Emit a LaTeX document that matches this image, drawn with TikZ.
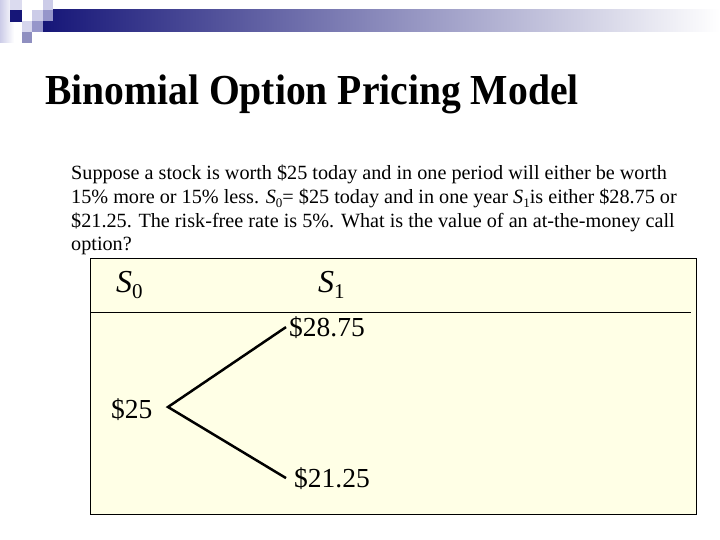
\documentclass[tikz,border=0pt]{standalone}
\usepackage{fontspec}
\setmainfont{Liberation Serif}
\usepackage{graphicx}

\definecolor{navy}{RGB}{22,22,120}
\definecolor{lavender}{RGB}{204,204,232}
\definecolor{midlavender}{RGB}{150,150,202}
\definecolor{paleyellow}{RGB}{255,255,230}

\newcommand{\stockS}[3]{\textit{S}\raisebox{-#3}{\fontsize{#2}{#2}\selectfont #1}}

\tikzset{
  body/.style={anchor=base west, inner sep=0pt, font=\fontsize{20.2}{24}\selectfont},
  price/.style={anchor=base west, inner sep=0pt, font=\fontsize{27.5}{32}\selectfont},
  period/.style={anchor=base west, inner sep=0pt, font=\fontsize{32}{38}\selectfont},
  branch/.style={line width=2.5pt, line join=miter},
}

\begin{document}
\begin{tikzpicture}[x=1pt,y=1pt]
  \useasboundingbox (0,0) rectangle (720,-540);

  % header bar and squares
  \shade[left color=lavender, right color=white] (0,0) rectangle (14,-43);
  \shade[left color=navy, right color=white] (43,-10) rectangle (720,-32);
  \fill[lavender!70] (10,0) rectangle (22,-10);
  \fill[navy] (10,-10) rectangle (22,-22);
  \fill[lavender] (32,-10) rectangle (43,-21);
  \fill[lavender] (43,0) rectangle (53,-10);
  \fill[midlavender] (43,-10) rectangle (53,-21);
  \fill[lavender!80] (22,-21) rectangle (32,-32);
  \fill[midlavender] (32,-21) rectangle (43,-32);
  \fill[midlavender!95!black] (22,-32) rectangle (32,-43);

  \node[anchor=base west, inner sep=0pt, font=\bfseries\fontsize{39.6}{48}\selectfont] (title) at (45,-105)
    {\scalebox{1}[1.08]{Binomial Option Pricing Model}};

  \node[body] (q1) at (71,-180) {Suppose a stock is worth \$25 today and in one period will either be worth};
  \node[body] (q2) at (71,-203.5) {15\% more or 15\% less. \stockS{0}{13}{4pt}= \$25 today and in one year \stockS{1}{13}{4pt}is either \$28.75 or};
  \node[body] (q3) at (71,-227) {\$21.25. The risk-free rate is 5\%. What is the value of an at-the-money call};
  \node[body] (q4) at (71,-250.5) {option?};

  \draw[fill=paleyellow, line width=1pt] (90,-258) rectangle (696,-514);
  \draw[line width=1pt] (90,-312) -- (691,-312);

  \node[period] (s0) at (116,-292) {\stockS{0}{21}{6pt}};
  \node[period] (s1) at (318,-292) {\stockS{1}{21}{6pt}};

  \node[price] (v0) at (111,-418) {\$25};
  \node[price] (up) at (289,-336) {\$28.75};
  \node[price] (dn) at (294,-487) {\$21.25};

  \coordinate (root) at (168,-407);
  \draw[branch] ([xshift=-3pt]up.west) -- (root) -- ([xshift=-8pt]dn.west);
\end{tikzpicture}
\end{document}
